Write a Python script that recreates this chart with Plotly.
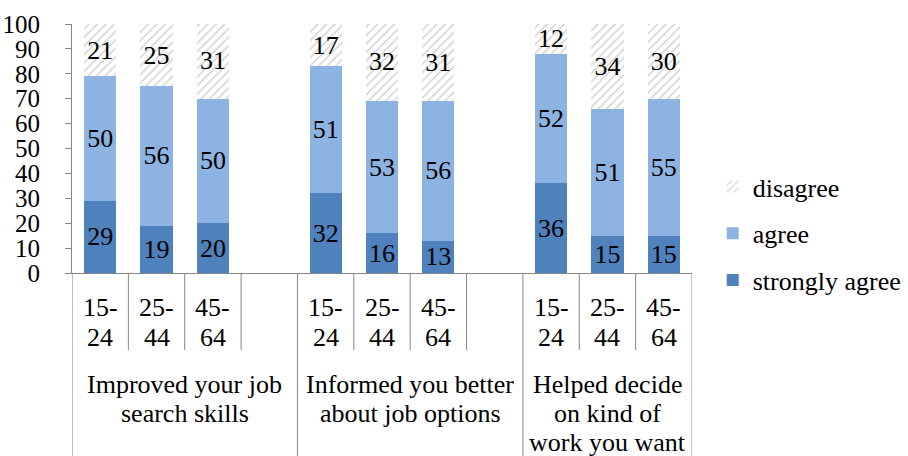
import plotly.graph_objects as go

# Survey results: share of respondents by age band, per statement
groups = [["Improved your job", "search skills"],
          ["Informed you better", "about job options"],
          ["Helped decide", "on kind of", "work you want"]]
ages = [["15-", "24"], ["25-", "44"], ["45-", "64"]]

strongly_agree = [29, 19, 20, 32, 16, 13, 36, 15, 15]
agree = [50, 56, 50, 51, 53, 56, 52, 51, 55]
disagree = [21, 25, 31, 17, 32, 31, 12, 34, 30]

FONT = "Times New Roman, Liberation Serif, serif"
FS = 26
AXIS_GREY = "#868686"

# Plot area geometry in pixels (used to place the category text lines)
PLOT_TOP, PLOT_BOTTOM = 24, 273


def paper_y(py):
    return (PLOT_BOTTOM - py) / (PLOT_BOTTOM - PLOT_TOP)


# Each statement occupies its age bars plus one spacer slot (except the last)
n_ages = len(ages)
slot = n_ages + 1
x_pos = [g * slot + i for g in range(len(groups)) for i in range(n_ages)]
n_slots = (len(groups) - 1) * slot + n_ages
x_lo, x_hi = -0.5, n_slots - 0.5

fig = go.Figure()

series = [
    ("strongly agree", strongly_agree, dict(color="#4F81BD"), 3),
    ("agree", agree, dict(color="#8DB3E2"), 2),
    ("disagree", disagree, dict(color="white",
                                pattern=dict(shape="/", fgcolor="#A6A6A6",
                                             bgcolor="white", size=6,
                                             solidity=0.25)), 1),
]
for name, vals, marker, rank in series:
    fig.add_trace(go.Bar(
        x=x_pos, y=vals, name=name, marker=marker,
        marker_line_width=0, width=0.57,
        text=[str(v) for v in vals], texttemplate="%{text}",
        textposition="inside", insidetextanchor="middle",
        textangle=0, textfont=dict(family=FONT, size=FS, color="black"),
        legendgroup=name, legendrank=rank, hoverinfo="skip",
    ))

# Category dividers below the axis: short between ages, long between statements
shapes = []
for g in range(len(groups)):
    start = g * slot - 0.5
    end = min(g * slot + slot - 0.5, x_hi)
    k = start + 1
    while k < end - 1e-9:
        shapes.append(dict(type="line", xref="x", yref="paper",
                           x0=k, x1=k, y0=0, y1=paper_y(350),
                           line=dict(color=AXIS_GREY, width=1)))
        k += 1
bounds = sorted({g * slot - 0.5 for g in range(len(groups))} | {x_hi})
for b in bounds:
    shapes.append(dict(type="line", xref="x", yref="paper",
                       x0=b, x1=b, y0=0, y1=paper_y(460),
                       line=dict(color=AXIS_GREY, width=1)))

annotations = []
txt_font = dict(family=FONT, size=FS, color="black")
age_rows = [307, 337]
for xp, lines in zip(x_pos, ages * len(groups)):
    for line, py in zip(lines, age_rows):
        annotations.append(dict(x=xp, y=paper_y(py), xref="x", yref="paper",
                                text=line, showarrow=False, yanchor="middle",
                                font=txt_font))
group_rows = [384, 413, 442]
for g, lines in enumerate(groups):
    start = g * slot - 0.5
    end = min(g * slot + slot - 0.5, x_hi)
    for line, py in zip(lines, group_rows):
        annotations.append(dict(x=(start + end) / 2, y=paper_y(py),
                                xref="x", yref="paper", text=line,
                                showarrow=False, yanchor="middle",
                                font=txt_font))

fig.update_layout(
    width=908, height=456,
    margin=dict(l=72, r=216, t=PLOT_TOP, b=456 - PLOT_BOTTOM, autoexpand=False),
    barmode="stack",
    plot_bgcolor="white", paper_bgcolor="white",
    font=dict(family=FONT, size=FS, color="black"),
    uniformtext=dict(minsize=FS, mode="show"),
    shapes=shapes, annotations=annotations,
    legend=dict(traceorder="grouped", tracegroupgap=10,
                x=1.0334, xanchor="left", y=paper_y(163), yanchor="top",
                font=dict(family=FONT, size=FS, color="black"),
                bgcolor="rgba(0,0,0,0)"),
    xaxis=dict(range=[x_lo, x_hi], showline=True, linecolor=AXIS_GREY,
               linewidth=1, showgrid=False, zeroline=False,
               showticklabels=False, ticks=""),
    yaxis=dict(range=[0, 100], dtick=10, showline=True, linecolor=AXIS_GREY,
               linewidth=1, showgrid=False, zeroline=False,
               ticks="outside", ticklen=6, tickcolor=AXIS_GREY,
               ticklabelposition="outside", ticklabelstandoff=20,
               tickfont=dict(family=FONT, size=25, color="black")),
)

fig.write_html("out.html")
